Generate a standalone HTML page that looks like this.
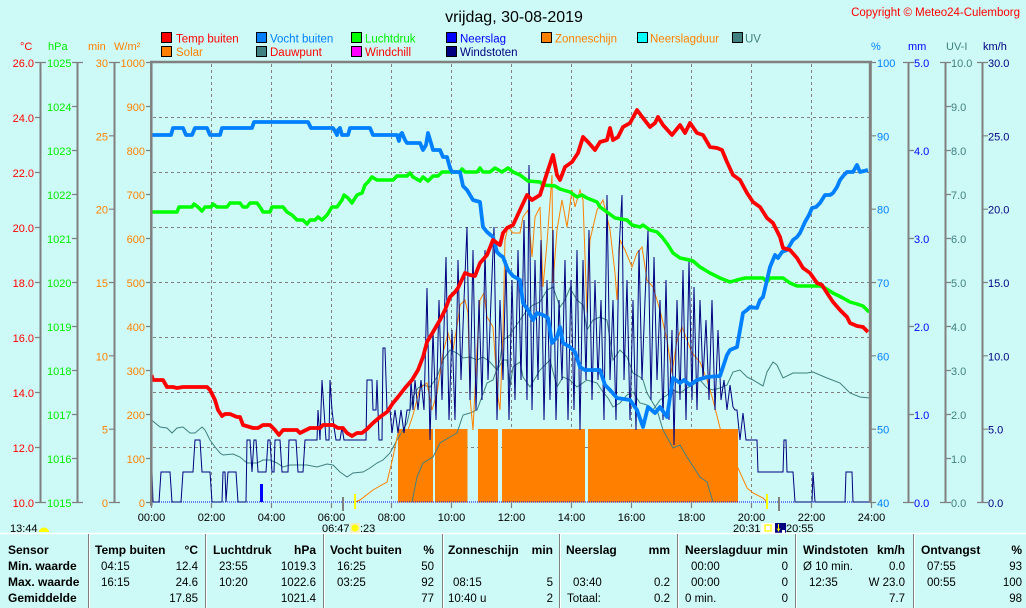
<!DOCTYPE html>
<html><head><meta charset="utf-8"><style>
html,body{margin:0;padding:0;background:#cdfaf6;}
svg{display:block;font-family:"Liberation Sans",sans-serif;}
.t{font-size:11px;}
.b{font-size:12px;font-weight:bold;fill:#000;}
.d{font-size:11.5px;fill:#000;}
</style></head><body>
<svg width="1026" height="608" viewBox="0 0 1026 608" xmlns="http://www.w3.org/2000/svg">
<rect width="1026" height="608" fill="#cdfaf6"/>
<!-- title -->
<text x="514" y="22" font-size="16" text-anchor="middle" fill="#000">vrijdag, 30-08-2019</text>
<text x="1020" y="16" font-size="11.5" text-anchor="end" fill="#ff0000">Copyright © Meteo24-Culemborg</text>
<!-- legend -->
<g stroke="#000" stroke-width="1">
<rect x="161.5" y="32.5" width="10" height="10" fill="#ff0000"/>
<rect x="161.5" y="46.5" width="10" height="10" fill="#ff8000"/>
<rect x="256.5" y="32.5" width="10" height="10" fill="#0080ff"/>
<rect x="256.5" y="46.5" width="10" height="10" fill="#408080"/>
<rect x="351.5" y="32.5" width="10" height="10" fill="#00ff00"/>
<rect x="351.5" y="46.5" width="10" height="10" fill="#ff00ff"/>
<rect x="446.5" y="32.5" width="10" height="10" fill="#0000ff"/>
<rect x="446.5" y="46.5" width="10" height="10" fill="#000080"/>
<rect x="541.5" y="32.5" width="10" height="10" fill="#ff8000"/>
<rect x="637.5" y="32.5" width="10" height="10" fill="#00ffff"/>
<rect x="732.5" y="32.5" width="10" height="10" fill="#408080"/>
</g>
<g font-size="11.5">
<text x="176" y="42.5" fill="#ff0000">Temp buiten</text>
<text x="176" y="56" fill="#ff8000">Solar</text>
<text x="270" y="42.5" fill="#0080ff">Vocht buiten</text>
<text x="270" y="56" fill="#ff0000">Dauwpunt</text>
<text x="365" y="42.5" fill="#00ee00">Luchtdruk</text>
<text x="365" y="56" fill="#ff0000">Windchill</text>
<text x="460" y="42.5" fill="#0000ff">Neerslag</text>
<text x="460" y="56" fill="#000080">Windstoten</text>
<text x="555" y="42.5" fill="#ff8000">Zonneschijn</text>
<text x="650" y="42.5" fill="#ff8000">Neerslagduur</text>
<text x="745" y="42.5" fill="#408080">UV</text>
</g>
<!-- axis units -->
<g class="t">
<text x="20" y="50" fill="#ff0000">°C</text>
<text x="48" y="50" fill="#00ee00">hPa</text>
<text x="88" y="50" fill="#ff8000">min</text>
<text x="114" y="50" fill="#ff8000">W/m²</text>
<text x="871" y="50" fill="#0080ff">%</text>
<text x="908" y="50" fill="#0000ff">mm</text>
<text x="946" y="50" fill="#408080">UV-I</text>
<text x="983" y="50" fill="#000080">km/h</text>
</g>
<!-- axis lines -->
<g stroke="#808080" stroke-width="2" fill="none">
<line x1="40.5" y1="62" x2="40.5" y2="503"/>
<line x1="77.5" y1="62" x2="77.5" y2="503"/>
<line x1="114.5" y1="62" x2="114.5" y2="503"/>
<line x1="908.5" y1="62" x2="908.5" y2="503"/>
<line x1="945.5" y1="62" x2="945.5" y2="503"/>
<line x1="982.5" y1="62" x2="982.5" y2="503"/>
</g>
<g stroke="#808080" stroke-width="1.2">
<path d="M35 62.5H46M35 117.5H40M35 172.5H40M35 227.5H40M35 282.5H40M35 337.5H40M35 392.5H40M35 447.5H40M35 502.5H46"/>
<path d="M72 62.5H83M72 106.5H77M72 150.5H77M72 194.5H77M72 238.5H77M72 282.5H77M72 326.5H77M72 370.5H77M72 414.5H77M72 458.5H77M72 502.5H83"/>
<path d="M109 62.5H120M109 135.8H114M109 209.2H114M109 282.5H114M109 355.8H114M109 429.2H114M109 502.5H120"/>
<path d="M146 62.5H151M146 106.5H151M146 150.5H151M146 194.5H151M146 238.5H151M146 282.5H151M146 326.5H151M146 370.5H151M146 414.5H151M146 458.5H151M146 502.5H151"/>
<path d="M870 62.5H876M870 135.8H876M870 209.2H876M870 282.5H876M870 355.8H876M870 429.2H876M870 502.5H876"/>
<path d="M903 62.5H914M908 150.5H914M908 238.5H914M908 326.5H914M908 414.5H914M903 502.5H914"/>
<path d="M940 62.5H951M945 106.5H951M945 150.5H951M945 194.5H951M945 238.5H951M945 282.5H951M945 326.5H951M945 370.5H951M945 414.5H951M945 458.5H951M940 502.5H951"/>
<path d="M977 62.5H988M982 135.8H988M982 209.2H988M982 282.5H988M982 355.8H988M982 429.2H988M977 502.5H988"/>
<path d="M151.5 503V508M211.5 503V508M271.5 503V508M331.5 503V508M391.5 503V508M451.5 503V508M511.5 503V508M571.5 503V508M631.5 503V508M691.5 503V508M751.5 503V508M811.5 503V508M871.5 503V508"/>
</g>
<!-- tick labels -->
<g class="t" text-anchor="end" fill="#ff0000">
<text x="34" y="67">26.0</text><text x="34" y="122">24.0</text><text x="34" y="177">22.0</text><text x="34" y="232">20.0</text><text x="34" y="287">18.0</text><text x="34" y="342">16.0</text><text x="34" y="397">14.0</text><text x="34" y="452">12.0</text><text x="34" y="507">10.0</text>
</g>
<g class="t" text-anchor="end" fill="#00ee00">
<text x="71.5" y="67">1025</text><text x="71.5" y="111">1024</text><text x="71.5" y="155">1023</text><text x="71.5" y="199">1022</text><text x="71.5" y="243">1021</text><text x="71.5" y="287">1020</text><text x="71.5" y="331">1019</text><text x="71.5" y="375">1018</text><text x="71.5" y="419">1017</text><text x="71.5" y="463">1016</text><text x="71.5" y="507">1015</text>
</g>
<g class="t" text-anchor="end" fill="#ff8000">
<text x="108" y="67">30</text><text x="108" y="140.3">25</text><text x="108" y="213.7">20</text><text x="108" y="287">15</text><text x="108" y="360.3">10</text><text x="108" y="433.7">5</text><text x="108" y="507">0</text>
<text x="145" y="67">1000</text><text x="145" y="111">900</text><text x="145" y="155">800</text><text x="145" y="199">700</text><text x="145" y="243">600</text><text x="145" y="287">500</text><text x="145" y="331">400</text><text x="145" y="375">300</text><text x="145" y="419">200</text><text x="145" y="463">100</text><text x="145" y="507">0</text>
</g>
<g class="t" fill="#0080ff">
<text x="877" y="67">100</text><text x="877" y="140.3">90</text><text x="877" y="213.7">80</text><text x="877" y="287">70</text><text x="877" y="360.3">60</text><text x="877" y="433.7">50</text><text x="877" y="507">40</text>
</g>
<g class="t" fill="#0000ff">
<text x="914" y="67">5.0</text><text x="914" y="155">4.0</text><text x="914" y="243">3.0</text><text x="914" y="331">2.0</text><text x="914" y="419">1.0</text><text x="914" y="507">0.0</text>
</g>
<g class="t" fill="#408080">
<text x="951" y="67">10.0</text><text x="951" y="111">9.0</text><text x="951" y="155">8.0</text><text x="951" y="199">7.0</text><text x="951" y="243">6.0</text><text x="951" y="287">5.0</text><text x="951" y="331">4.0</text><text x="951" y="375">3.0</text><text x="951" y="419">2.0</text><text x="951" y="463">1.0</text><text x="951" y="507">0.0</text>
</g>
<g class="t" fill="#000080">
<text x="988" y="67">30.0</text><text x="988" y="140.3">25.0</text><text x="988" y="213.7">20.0</text><text x="988" y="287">15.0</text><text x="988" y="360.3">10.0</text><text x="988" y="433.7">5.0</text><text x="988" y="507">0.0</text>
</g>
<!-- grid -->
<g stroke="#808080" stroke-width="1" stroke-dasharray="3,3">
<path d="M211.5 64V502M271.5 64V502M331.5 64V502M391.5 64V502M451.5 64V502M511.5 64V502M571.5 64V502M631.5 64V502M691.5 64V502M751.5 64V502M811.5 64V502"/>
<path d="M153 117.5H869M153 172.5H869M153 227.5H869M153 282.5H869M153 337.5H869M153 392.5H869M153 447.5H869"/>
</g>
<!-- sunshine bars -->
<g fill="#ff8000">
<rect x="398" y="429" width="35" height="73.5"/>
<rect x="435" y="429" width="32.5" height="73.5"/>
<rect x="478" y="429" width="20" height="73.5"/>
<rect x="502" y="429" width="83" height="73.5"/>
<rect x="588" y="429" width="150" height="73.5"/>
</g>
<line x1="153" y1="502" x2="869" y2="502" stroke="#0000ff" stroke-width="1" stroke-dasharray="1,1"/>
<rect x="260" y="484" width="3" height="18" fill="#0000ff"/>
<!-- dew point -->
<polyline fill="none" stroke="#408080" stroke-width="1" points="151.5,420 160,427 167,428 172,433 177,428 183,427 190,433 195,433 202,427 205,430 210,440 215,447 220,453 223,455 233,454 240,457 247,463 257,463 263,460 270,460 277,463 283,467 290,465 307,465 317,467 327,464 333,465 340,472 347,477 353,473 363,472 370,468 377,463 383,460 390,453 397,440 403,430 407,423 413,397 418,388 423,385 430,387 437,377 443,360 450,350 457,353 463,358 470,357 477,360 483,357 490,362 497,370 503,360 507,360 510,387 513,367 520,362 523,377 530,387 540,370 550,360 557,387 563,377 570,380 577,387 587,380 597,383 603,392 608,398 613,407 620,403 627,395 633,392 640,403 647,405 653,410 660,400 667,395 673,390 680,393 687,388 693,385 700,380 707,388 713,390 720,388 727,385 733,372 740,370 747,377 753,380 763,386 767,372 773,362 777,365 783,378 793,373 807,373 813,372 827,378 840,383 850,393 860,397 870,398"/>
<!-- UV -->
<polyline fill="none" stroke="#408080" stroke-width="1" points="412,502 417,477 423,463 433,457 440,443 450,437 457,433 463,415 470,413 477,410 487,383 493,380 500,360 503,340 510,335 513,330 520,320 527,310 533,305 540,302 547,290 553,287 560,307 565,300 570,288 577,300 583,305 587,330 593,320 600,317 607,320 613,360 620,350 627,357 633,373 640,377 643,380 647,393 657,410 663,430 673,448 680,445 687,457 700,477 707,482 713,502"/>
<!-- solar -->
<polyline fill="none" stroke="#ff8000" stroke-width="1" points="355,502 360,500 373,490 387,482 393,457 398,433 407,433 413,415 420,388 427,383 432,410 437,393 443,353 448,333 453,350 458,320 460,305 465,300 468,313 470,397 473,430 477,350 480,300 484,293 487,317 493,327 498,397 500,410 503,333 505,240 508,227 513,233 520,233 523,217 528,210 532,257 535,217 540,207 543,287 547,243 552,175 553,283 557,230 562,200 567,227 572,190 575,207 580,190 583,200 587,313 590,240 597,210 603,200 610,230 615,273 617,300 620,240 625,250 632,267 637,253 642,247 647,280 653,287 660,310 667,340 672,373 677,340 682,327 687,340 692,353 700,362 707,380 713,400 720,428 738,468 747,488 753,493 763,498 767,502"/>
<!-- wind gusts -->
<polyline fill="none" stroke="#000080" stroke-width="1" points="151.5,502 152,472 153,502 159,502 161,472 170,472 172,502 181,502 183,472 193,472 195,440 200,440 202,472 210,472 212,502 222,502 223,472 225,472 226,502 228,472 236,472 238,502 246,502 247,440 250,440 252,472 254,440 256,440 258,472 266,472 268,440 270,440 272,472 274,472 275,440 280,440 282,472 288,472 289,440 296,440 298,472 303,472 305,440 317,440 318,410 320,440 322,380 324,410 326,440 329,440 330,380 332,410 334,427 336,440 340,440 342,427 344,440 366,440 367,380 372,380 373,410 376,410 377,380 379,440 382,440 383,348 385,348 387,410 390,410 392,433 395,410 398,433 401,410 404,433 407,410 410,410 411,380 413,410 415,380 418,410 421,380 424,410 427,288 430,440 433,330 436,420 439,300 442,400 446,257 449,420 452,330 455,420 458,260 461,380 464,300 467,227 470,400 473,250 476,410 479,300 482,400 485,250 488,380 491,300 494,227 497,420 500,300 503,380 506,260 509,420 512,280 515,400 518,250 521,380 524,220 527,400 529,165 532,410 535,260 538,380 541,240 544,420 547,280 550,400 553,230 556,420 559,300 562,380 565,260 568,420 571,280 574,410 577,250 580,430 583,260 586,380 589,230 592,400 595,280 598,380 601,300 604,420 607,195 610,380 613,300 616,420 619,250 622,195 624,380 627,280 630,420 633,300 636,430 639,250 642,380 645,300 648,230 651,400 654,257 657,380 660,300 663,420 666,280 669,420 672,330 674,445 677,300 680,400 683,270 686,420 689,260 692,400 694,287 697,410 700,300 703,380 706,320 709,400 712,300 715,410 718,330 721,400 724,380 727,410 730,385 733,407 735,410 737,410 740,440 743,413 746,440 757,440 758,472 783,472 784,440 786,440 787,472 793,472 795,502 812,502 813,472 815,502 845,502 846,472 852,472 853,502 869,502"/>
<!-- pressure -->
<polyline fill="none" stroke="#00ff00" stroke-width="3.5" stroke-linejoin="round" points="151.5,212 177,212 179,207 192,207 194,204 198,207 202,211 205,207 211,207 213,204 217,207 227,207 230,203 240,203 243,207 247,207 250,203 257,203 260,207 263,212 270,212 272,207 283,207 287,212 292,215 297,220 303,220 307,224 310,220 315,220 318,217 322,220 327,215 332,207 337,207 342,200 344,195 348,198 352,203 357,195 362,193 365,185 368,182 372,177 377,180 393,180 397,176 407,176 410,173 413,177 420,181 423,177 428,181 433,176 438,176 442,172 460,172 462,169 465,172 477,172 480,168 483,172 490,172 495,168 502,172 508,168 513,172 520,175 528,181 540,182 543,185 555,186 560,189 570,192 577,197 582,195 587,198 597,202 600,207 607,212 615,218 627,220 632,225 640,227 643,225 650,230 657,232 662,237 668,245 673,253 680,258 685,259 693,261 700,267 710,273 720,278 730,282 737,280 745,278 763,278 767,282 770,278 783,278 790,283 797,286 820,286 825,288 833,293 843,298 850,302 857,304 863,306 869,312"/>
<!-- humidity -->
<polyline fill="none" stroke="#0080ff" stroke-width="3.8" stroke-linejoin="round" points="151.5,135 171,135 173,128 183,128 186,135 192,135 195,128 207,128 210,135 220,135 222,128 252,128 254,122 308,122 311,128 333,128 336,133 337,135 338,130 340,128 342,135 348,135 350,128 370,128 373,135 397,135 399,141 400,135 402,133 405,140 407,143 420,143 423,150 426,145 428,133 431,143 433,150 440,150 443,157 447,157 450,168 452,172 460,172 463,186 467,190 470,195 473,200 480,202 483,227 487,232 493,237 497,252 500,255 503,257 506,265 508,270 513,276 520,280 523,303 528,310 533,320 537,313 543,315 548,318 552,343 557,337 560,327 563,343 570,347 575,352 580,367 585,370 600,370 605,385 610,390 617,398 630,400 637,410 643,427 648,407 655,413 660,407 667,417 670,397 673,378 680,383 684,380 690,385 697,380 707,377 720,376 723,367 727,355 730,350 737,347 740,330 743,313 747,310 750,307 757,308 760,300 763,297 767,280 770,267 775,255 778,258 782,252 787,250 790,245 793,240 797,237 800,233 805,222 809,215 812,208 816,207 820,203 825,195 830,195 833,193 837,187 840,180 844,175 847,172 853,172 857,165 860,172 864,171 868,170"/>
<!-- temperature -->
<polyline fill="none" stroke="#ff0000" stroke-width="3.8" stroke-linejoin="round" points="151.5,375 153,380 163,380 167,387 173,387 177,388 183,387 207,387 210,390 215,400 218,410 222,416 225,414 230,414 237,417 240,417 243,425 253,428 258,428 263,425 270,425 275,430 279,435 283,430 297,430 300,433 310,428 320,428 323,425 333,425 338,428 343,428 347,433 352,436 357,433 362,433 367,429 373,423 380,417 387,412 393,403 398,397 405,388 412,380 418,370 423,357 427,342 430,337 433,332 440,320 445,310 450,297 455,292 458,288 465,273 470,275 475,276 480,263 487,255 493,240 497,243 500,245 503,233 507,228 513,225 520,210 527,195 532,200 540,195 547,173 553,155 557,175 560,180 565,167 572,162 578,153 583,137 588,142 595,150 600,142 607,140 610,128 613,140 618,137 623,127 630,123 637,110 643,118 650,127 655,123 658,117 663,125 672,135 680,125 685,133 690,123 697,133 703,135 710,147 717,148 722,150 727,162 733,175 740,180 747,193 753,202 760,207 767,218 773,223 780,237 783,248 790,250 797,258 803,268 810,273 817,283 822,285 827,293 833,302 840,310 847,317 850,323 857,326 863,327 868,332"/>
<!-- plot border -->
<g stroke="#808080" fill="none">
<line x1="150" y1="62" x2="872" y2="62" stroke-width="2.5"/>
<line x1="151.3" y1="61" x2="151.3" y2="506" stroke-width="2.5"/>
<line x1="870.3" y1="61" x2="870.3" y2="503" stroke-width="3"/>
</g>
<line x1="343" y1="497" x2="343" y2="511" stroke="#808080" stroke-width="2"/>
<line x1="355" y1="494" x2="355" y2="509" stroke="#ffff00" stroke-width="2"/>
<line x1="767" y1="494" x2="767" y2="509" stroke="#ffff00" stroke-width="2"/>
<line x1="779" y1="497" x2="779" y2="511" stroke="#808080" stroke-width="2"/>
<!-- x labels -->
<g class="t" fill="#000" text-anchor="middle">
<text x="151.5" y="521">00:00</text><text x="211.5" y="521">02:00</text><text x="271.5" y="521">04:00</text><text x="331.5" y="521">06:00</text><text x="391.5" y="521">08:00</text><text x="451.5" y="521">10:00</text><text x="511.5" y="521">12:00</text><text x="571.5" y="521">14:00</text><text x="631.5" y="521">16:00</text><text x="691.5" y="521">18:00</text><text x="751.5" y="521">20:00</text><text x="811.5" y="521">22:00</text><text x="871.5" y="521">24:00</text>
</g>
<g class="t" fill="#000">
<text x="10" y="532">13:44</text>
<text x="322" y="532">06:47</text>
<text x="360" y="532">:23</text>
<text x="733" y="532">20:31</text>
<text x="786" y="532">20:55</text>
</g>
<path d="M39 532 A5 4.5 0 0 1 49 532 Z" fill="#ffff00"/>
<rect x="350" y="523" width="10" height="10" fill="#f0f0c0"/>
<circle cx="355" cy="528" r="3.5" fill="#ffff00"/>
<rect x="761" y="523" width="14" height="11" fill="#ffffff"/>
<rect x="765" y="525" width="6" height="6" fill="none" stroke="#ffff00" stroke-width="1.3"/>
<rect x="775" y="523" width="11" height="11" fill="#000080"/>
<path d="M778 524 L778 529 L776.5 528 L778.5 532 L780.5 528 L779 529 L779 524 Z" fill="#ffff00"/>
<rect x="782" y="530" width="3" height="3" fill="#ffffff"/>
<!-- table -->
<line x1="0" y1="533.5" x2="1026" y2="533.5" stroke="#ffffff" stroke-width="1.5"/>
<g stroke="#808080" stroke-width="1">
<path d="M88.5 534V608M205.5 534V608M323.5 534V608M442.5 534V608M559.5 534V608M677.5 534V608M795.5 534V608M913.5 534V608"/>
</g>
<g stroke="#ffffff" stroke-width="1">
<path d="M89.5 534V608M206.5 534V608M324.5 534V608M443.5 534V608M560.5 534V608M678.5 534V608M796.5 534V608M914.5 534V608"/>
</g>
<g class="b">
<text x="8" y="554">Sensor</text>
<text x="8" y="570">Min. waarde</text>
<text x="8" y="586">Max. waarde</text>
<text x="8" y="602">Gemiddelde</text>
<text x="95" y="554">Temp buiten</text><text x="198" y="554" text-anchor="end">°C</text>
<text x="213" y="554">Luchtdruk</text><text x="316" y="554" text-anchor="end">hPa</text>
<text x="330" y="554">Vocht buiten</text><text x="434" y="554" text-anchor="end">%</text>
<text x="448" y="554">Zonneschijn</text><text x="553" y="554" text-anchor="end">min</text>
<text x="566" y="554">Neerslag</text><text x="670" y="554" text-anchor="end">mm</text>
<text x="685" y="554">Neerslagduur</text><text x="788" y="554" text-anchor="end">min</text>
<text x="803" y="554">Windstoten</text><text x="905" y="554" text-anchor="end">km/h</text>
<text x="921" y="554">Ontvangst</text><text x="1022" y="554" text-anchor="end">%</text>
</g>
<g class="d">
<text x="101" y="570">04:15</text><text x="198" y="570" text-anchor="end">12.4</text>
<text x="101" y="586">16:15</text><text x="198" y="586" text-anchor="end">24.6</text>
<text x="198" y="602" text-anchor="end">17.85</text>
<text x="219" y="570">23:55</text><text x="316" y="570" text-anchor="end">1019.3</text>
<text x="219" y="586">10:20</text><text x="316" y="586" text-anchor="end">1022.6</text>
<text x="316" y="602" text-anchor="end">1021.4</text>
<text x="337" y="570">16:25</text><text x="434" y="570" text-anchor="end">50</text>
<text x="337" y="586">03:25</text><text x="434" y="586" text-anchor="end">92</text>
<text x="434" y="602" text-anchor="end">77</text>
<text x="453" y="586">08:15</text><text x="553" y="586" text-anchor="end">5</text>
<text x="448" y="602">10:40 u</text><text x="553" y="602" text-anchor="end">2</text>
<text x="573" y="586">03:40</text><text x="670" y="586" text-anchor="end">0.2</text>
<text x="567" y="602">Totaal:</text><text x="670" y="602" text-anchor="end">0.2</text>
<text x="691" y="570">00:00</text><text x="788" y="570" text-anchor="end">0</text>
<text x="691" y="586">00:00</text><text x="788" y="586" text-anchor="end">0</text>
<text x="685" y="602">0 min.</text><text x="788" y="602" text-anchor="end">0</text>
<text x="803" y="570">Ø 10 min.</text><text x="905" y="570" text-anchor="end">0.0</text>
<text x="809" y="586">12:35</text><text x="905" y="586" text-anchor="end">W 23.0</text>
<text x="905" y="602" text-anchor="end">7.7</text>
<text x="927" y="570">07:55</text><text x="1022" y="570" text-anchor="end">93</text>
<text x="927" y="586">00:55</text><text x="1022" y="586" text-anchor="end">100</text>
<text x="1022" y="602" text-anchor="end">98</text>
</g>
</svg>
</body></html>
